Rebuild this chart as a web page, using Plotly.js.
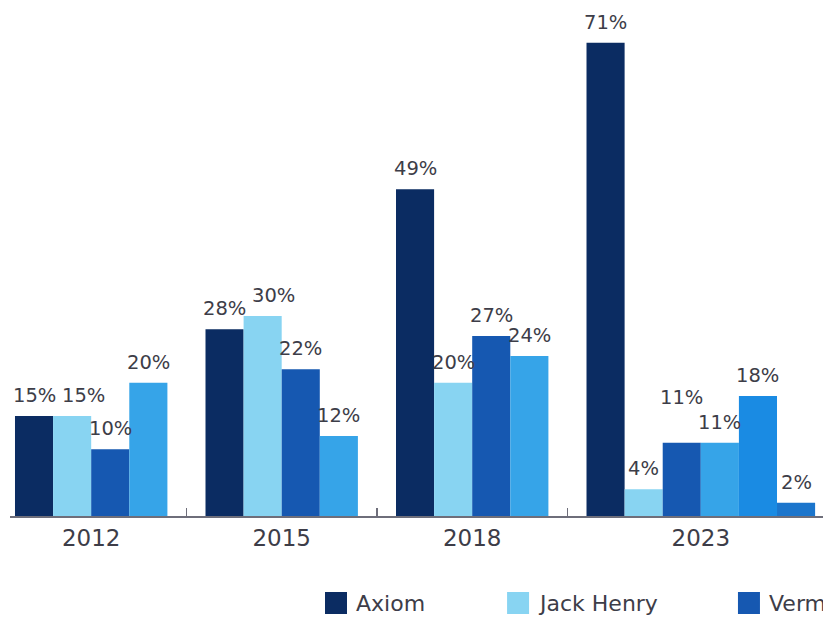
<!DOCTYPE html>
<html><head><meta charset="utf-8">
<script src="https://cdn.plot.ly/plotly-3.0.1.min.js"></script>
<style>html,body{margin:0;padding:0;background:#fff;overflow:hidden}#chart{width:823px;height:618px}</style>
</head><body><div id="chart"></div>
<script>
// ---- data ----
const years = ['2012', '2015', '2018', '2023'];
const seriesNames = ['Axiom', 'Jack Henry', 'Vermilion', 'Fiserv', 'FIS', 'Other'];
const axiom = [15, 28, 49, 71];
const jackHenry = [15, 30, 20, 4];
const vermilion = [10, 22, 27, 11];
const fiserv = [20, 12, 24, 11];
const fis = [null, null, null, 18];
const other = [null, null, null, 2];
const seriesColors = ['#0b2c62', '#88d4f2', '#1658b1', '#36a4e8', '#1a8be3', '#1b75cc'];

// ---- layout helpers ----
const seriesValues = [axiom, jackHenry, vermilion, fiserv, fis, other];
const W = 823, H = 618, M = {l: 10, r: 0, t: 10, b: 102};
const PW = W - M.l - M.r, PH = H - M.t - M.b;
const SLOT = 5;               // bar slots per category
const XR = [-0.631, 20.707], YMAX = 75.9;
const FONT = '"DejaVu Sans", Verdana, sans-serif';
const TXT = '#3d3d48';
const AXC = '#6e6e7a';

// rank of each series inside each group (only non-null values)
const rank = seriesValues.map(() => []);
const counts = years.map((_, g) => {
  let k = 0;
  seriesValues.forEach((s, i) => { if (s[g] != null) { rank[i][g] = k; k++; } else rank[i][g] = null; });
  return k;
});
const barPos = (g, j) => g * SLOT + j;
const centers = years.map((_, g) => barPos(g, (counts[g] - 1) / 2));
const boundaries = years.slice(1).map((_, g) => barPos(g, SLOT - 1));

const traces = seriesValues.map((vals, i) => ({
  type: 'bar',
  name: seriesNames[i],
  x: vals.map((v, g) => v == null ? null : barPos(g, rank[i][g])),
  y: vals,
  width: 1,
  marker: {color: seriesColors[i], line: {width: 0}},
  showlegend: false,
  hovertemplate: seriesNames[i] + ': %{y}%<extra></extra>'
}));

// ---- value labels with simple overlap avoidance ----
const ctx = document.createElement('canvas').getContext('2d');
const LBL = 19.5, GAP = 7;
ctx.font = LBL + 'px ' + FONT;
const xpx = u => M.l + (u - XR[0]) * PW / (XR[1] - XR[0]);
const ypx = v => M.t + PH - v * PH / YMAX;
const annotations = [];
years.forEach((_, g) => {
  const items = [];
  seriesValues.forEach((s, i) => { if (s[g] != null) items.push({i: i, v: s[g], j: rank[i][g]}); });
  items.forEach(it => {
    it.w = ctx.measureText(it.v + '%').width + 2;
    it.cx = xpx(barPos(g, it.j));
    it.bottom = ypx(it.v) - GAP; it.top = it.bottom - LBL * 0.95;
    it.dx = 0; it.dy = 0;
  });
  for (let k = 1; k < items.length; k++) {
    const a = items[k - 1], b = items[k];
    const ov = (a.cx + a.dx + a.w / 2) - (b.cx + b.dx - b.w / 2);
    const vov = Math.min(a.bottom - a.dy, b.bottom) - Math.max(a.top - a.dy, b.top);
    if (ov > 0 && vov > 0) {
      const shift = ov + 4;
      const next = items[k + 1];
      const blocked = next && (b.cx + shift + b.w / 2) > xpx(barPos(g, next.j) - 0.5) && ypx(next.v) < b.bottom;
      if (!blocked) b.dx = shift;
      else a.dy = (a.bottom - b.top) + 6;
    }
  }
  items.forEach(it => annotations.push({
    x: barPos(g, it.j), y: it.v, xref: 'x', yref: 'y',
    text: it.v + '%', showarrow: false, yanchor: 'bottom',
    xshift: it.dx, yshift: GAP + it.dy,
    font: {family: FONT, size: LBL, color: TXT}
  }));
});

// ---- manual legend (large square swatches), entries that start inside the page ----
const LFS = 22;
ctx.font = LFS + 'px ' + FONT;
const shapes = [];
let px = 325;
const legY = 603, SW = 22;
const toPX = p => (p - M.l) / PW;
const toPY = p => (M.t + PH - p) / PH;
seriesNames.forEach((name, i) => {
  if (px >= W) return;
  shapes.push({type: 'rect', xref: 'paper', yref: 'paper',
    x0: toPX(px), x1: toPX(px + SW), y0: toPY(legY + SW / 2), y1: toPY(legY - SW / 2),
    fillcolor: seriesColors[i], line: {width: 0}});
  annotations.push({xref: 'paper', yref: 'paper', x: toPX(px + SW + 7), y: toPY(legY + 1),
    xanchor: 'left', yanchor: 'middle', text: name, showarrow: false,
    font: {family: FONT, size: LFS, color: TXT}});
  px += SW + 7 + ctx.measureText(name).width + 84;
});

const layout = {
  width: W, height: H, margin: M,
  paper_bgcolor: '#fff', plot_bgcolor: '#fff',
  barmode: 'overlay', showlegend: false,
  font: {family: FONT, color: TXT},
  xaxis: {
    range: XR, showgrid: false, zeroline: false,
    showline: true, linecolor: AXC, linewidth: 2,
    tickmode: 'array', tickvals: centers, ticktext: years, ticks: '',
    tickfont: {family: FONT, size: 23, color: TXT},
    minor: {tickmode: 'array', tickvals: boundaries, ticks: 'inside', ticklen: 8,
            tickwidth: 1.5, tickcolor: AXC, showgrid: false},
    fixedrange: true
  },
  yaxis: {range: [0, YMAX], showgrid: false, zeroline: false, showline: false,
          showticklabels: false, ticks: '', fixedrange: true},
  annotations: annotations,
  shapes: shapes
};

Plotly.newPlot('chart', traces, layout, {displayModeBar: false, staticPlot: true});
</script>
</body></html>
